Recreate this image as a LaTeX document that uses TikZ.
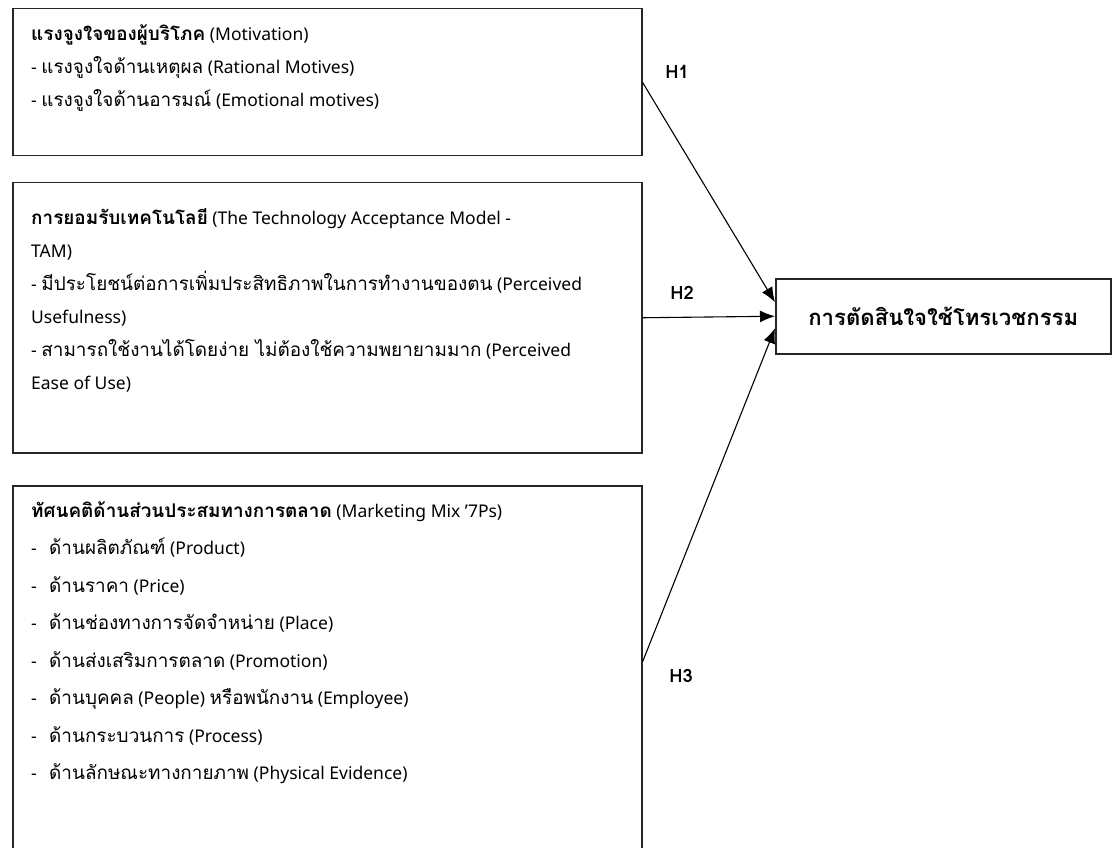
\documentclass[tikz,border=0pt]{standalone}
\usepackage{fontspec}
\setmainfont{Noto Sans}
\newfontfamily\thaifont[Script=Thai,Scale=1.08]{Loma}
\newcommand{\tth}[1]{{\thaifont #1}}
\usetikzlibrary{arrows.meta}
\usetikzlibrary{calc}

\tikzset{
  box/.style={draw=black!85, line width=1.5pt, anchor=north west, inner sep=0pt},
  boxtext/.style={anchor=north west, align=left, inner sep=0pt, font={\fontsize{17.5pt}{33pt}\selectfont}},
  hyp/.style={-{Latex[length=15pt,width=12pt]}, line width=1.1pt},
  hlabel/.style={font={\thaifont\bfseries\fontsize{17pt}{20pt}\selectfont}},
}

\begin{document}
\begin{tikzpicture}[x=1pt,y=-1pt]
\useasboundingbox (0,0) rectangle (1112,848);

\node[box, minimum width=629pt, minimum height=147pt] (mot) at (12,8) {};
\node[box, minimum width=629pt, minimum height=270pt] (tam) at (12,182) {};
\node[box, minimum width=629pt, minimum height=400pt] (mix) at (12,485) {};
\node[box, minimum width=335pt, minimum height=75pt,
  font={\thaifont\bfseries\fontsize{20.5pt}{24pt}\selectfont}] (dec) at (775,278) {การตัดสินใจใช้โทรเวชกรรม};

\node[boxtext] (mottext) at (31,25) {\textbf{\tth{แรงจูงใจของผู้บริโภค}} (Motivation)\\
- \tth{แรงจูงใจด้านเหตุผล} (Rational Motives)\\
- \tth{แรงจูงใจด้านอารมณ์} (Emotional motives)};

\node[boxtext] (tamtext) at (31,208) {\textbf{\tth{การยอมรับเทคโนโลยี}} (The Technology Acceptance Model -\\
TAM)\\
- \tth{มีประโยชน์ต่อการเพิ่มประสิทธิภาพในการทำงานของตน} (Perceived\\
Usefulness)\\
- \tth{สามารถใช้งานได้โดยง่าย ไม่ต้องใช้ความพยายามมาก} (Perceived\\
Ease of Use)};

\node[boxtext, font={\fontsize{17.5pt}{37.5pt}\selectfont}] (mixtext) at (31,501) {\textbf{\tth{ทัศนคติด้านส่วนประสมทางการตลาด}} (Marketing Mix '7Ps)\\
\makebox[18pt][l]{-}\tth{ด้านผลิตภัณฑ์} (Product)\\
\makebox[18pt][l]{-}\tth{ด้านราคา} (Price)\\
\makebox[18pt][l]{-}\tth{ด้านช่องทางการจัดจำหน่าย} (Place)\\
\makebox[18pt][l]{-}\tth{ด้านส่งเสริมการตลาด} (Promotion)\\
\makebox[18pt][l]{-}\tth{ด้านบุคคล} (People) \tth{หรือพนักงาน} (Employee)\\
\makebox[18pt][l]{-}\tth{ด้านกระบวนการ} (Process)\\
\makebox[18pt][l]{-}\tth{ด้านลักษณะทางกายภาพ} (Physical Evidence)};

\coordinate (mixh) at ($(mix.north east)+(0,177)$);

\draw[hyp] (mot.east) -- ($(dec.west)+(0,-14)$);
\draw[hyp] (tam.east) -- (dec.west);
\draw[hyp] (mixh) -- ($(dec.west)+(0,12)$);

\node[hlabel] (h1) at (677,72) {H1};
\node[hlabel] (h2) at (682,293) {H2};
\node[hlabel] (h3) at (681,676) {H3};
\end{tikzpicture}
\end{document}
